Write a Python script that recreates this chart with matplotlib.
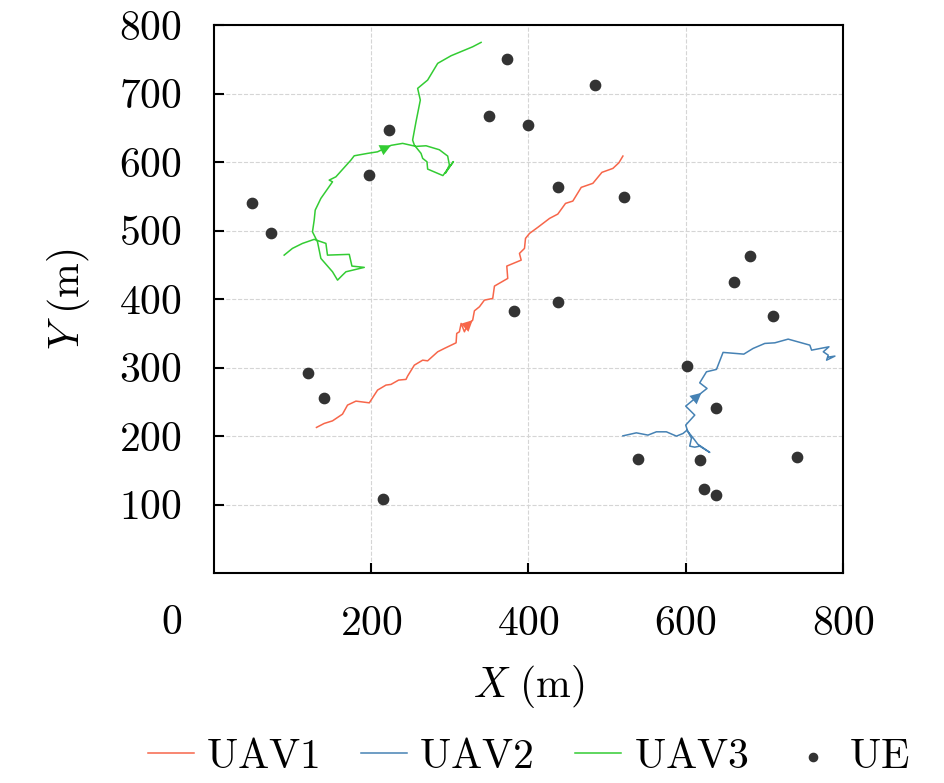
import matplotlib
matplotlib.use("Agg")
import matplotlib.pyplot as plt
import numpy as np

plt.rcParams['font.family'] = ['cmr10', 'DejaVu Sans']
plt.rcParams['mathtext.fontset'] = 'cm'
plt.rcParams['axes.formatter.use_mathtext'] = True

# UE positions (m)
ue_x = [48, 73, 222, 197, 373, 350, 400, 485, 438, 521, 437, 382, 120, 140,
        215, 601, 639, 682, 662, 711, 539, 618, 623, 638, 741]
ue_y = [541, 496, 647, 581, 750, 667, 654, 712, 563, 549, 396, 382, 292, 255,
        108, 302, 241, 463, 425, 375, 166, 165, 123, 114, 169]

# UAV1 trajectory
uav1_x = [130.3, 140.1, 150.7, 163.4, 169.8, 180.5, 197.5, 208.0, 218.7, 225.1,
          234.8, 244.2, 246.2, 254.8, 265.4, 271.7, 284.5, 293.0, 307.9, 308.7,
          312.1, 314.3, 318.5, 322.3, 329.0, 331.2, 337.6, 343.9, 354.5, 356.7,
          373.6, 372.4, 390.7, 388.5, 394.9, 396.2, 401.3, 411.8, 426.8, 437.3,
          447.1, 456.4, 467.1, 481.9, 493.4, 507.4, 515.0, 520.1]
uav1_y = [212.7, 218.5, 222.3, 232.1, 245.3, 251.1, 248.6, 267.2, 274.5, 275.5,
          281.8, 282.8, 287.6, 303.6, 310.9, 309.9, 323.1, 328.0, 336.2, 349.9,
          352.3, 364.5, 352.3, 362.0, 369.3, 382.9, 388.8, 398.5, 401.0, 419.0,
          430.2, 448.2, 456.9, 466.7, 474.0, 488.6, 495.9, 504.7, 517.8, 524.1,
          539.7, 543.1, 563.1, 569.0, 585.0, 590.8, 599.0, 608.8]

# UAV2 trajectory
uav2_x = [520.1, 537.2, 552.0, 562.7, 575.4, 588.2, 596.6, 601.7, 607.3, 605.1,
          611.5, 617.8, 630.6, 615.3, 611.5, 602.5, 600.0, 611.5, 600.0, 609.3,
          620.0, 627.1, 617.8, 626.4, 639.1, 647.5, 673.9, 685.7, 700.6, 713.4,
          730.3, 757.9, 760.1, 782.2, 775.0, 781.3, 779.2, 789.8, 780.9]
uav2_y = [200.4, 204.8, 201.5, 206.3, 206.3, 200.0, 203.9, 208.8, 197.1, 185.4,
          183.9, 185.4, 176.2, 188.3, 194.2, 207.3, 216.1, 230.7, 243.8, 252.6,
          263.2, 269.6, 277.8, 293.9, 297.4, 322.2, 319.7, 328.0, 335.3, 336.2,
          341.6, 332.8, 325.5, 330.4, 323.1, 318.2, 310.9, 316.8, 315.3]

# UAV3 trajectory
uav3_x = [89.2, 99.7, 112.5, 127.4, 142.3, 144.3, 172.0, 175.4, 191.1, 167.8,
          163.4, 157.1, 150.7, 135.9, 131.6, 125.2, 127.4, 128.7, 135.9, 150.7,
          146.5, 155.0, 174.1, 178.3, 195.3, 208.0, 225.1, 239.9, 256.9, 269.7,
          286.6, 297.2, 299.4, 294.3, 304.5, 291.1, 271.7, 270.9, 265.4, 263.3,
          254.8, 252.6, 256.9, 262.4, 259.0, 271.7, 284.5, 301.5, 329.0, 339.7]
uav3_y = [464.2, 474.0, 481.3, 487.2, 481.3, 464.2, 465.3, 448.2, 446.3, 439.9,
          435.0, 427.7, 439.9, 459.4, 483.6, 498.2, 515.3, 529.9, 547.0, 571.2,
          573.7, 578.5, 602.9, 609.2, 612.7, 615.0, 624.4, 627.3, 622.9, 623.8,
          618.0, 608.8, 595.6, 583.9, 600.7, 580.3, 589.8, 600.4, 605.4, 612.7,
          624.8, 632.1, 658.8, 690.5, 707.6, 719.7, 744.1, 755.2, 768.3, 774.7]

uavs = [
    ('UAV1', uav1_x, uav1_y, '#f7664a', 23),
    ('UAV2', uav2_x, uav2_y, '#4682b4', 19),
    ('UAV3', uav3_x, uav3_y, '#33cc33', 25),
]

FS = 30

fig = plt.figure(figsize=(9.45, 7.83), dpi=100)
ax = fig.add_axes([0.2265, 0.268, 0.6655, 0.7])

for name, xs, ys, col, k in uavs:
    ax.plot(xs, ys, color=col, lw=1.1, label=r'$\mathrm{%s}$' % name)
    # direction arrow along the path
    ax.annotate('', xy=(xs[k + 1], ys[k + 1]), xytext=(xs[k], ys[k]),
                arrowprops=dict(arrowstyle='-|>', color=col, lw=0,
                                mutation_scale=20, shrinkA=0, shrinkB=0))

ax.scatter(ue_x, ue_y, s=55, color='#333333', zorder=3, label=r'$\mathrm{UE}$')

ax.set_xlim(0, 800)
ax.set_ylim(0, 800)
ax.set_xticks([200, 400, 600, 800])
ax.set_yticks([100, 200, 300, 400, 500, 600, 700, 800])
ax.set_xticklabels([r'$200$', r'$400$', r'$600$', r'$800$'])
ax.set_yticklabels([r'$%d$' % v for v in range(100, 900, 100)])
ax.tick_params(axis='both', direction='in', length=7, width=1.5, labelsize=FS)
ax.tick_params(axis='x', pad=23)
ax.tick_params(axis='y', pad=23)
for sp in ax.spines.values():
    sp.set_linewidth(1.5)
ax.grid(True, ls='--', color='#d5d5d5', lw=0.8)
ax.set_axisbelow(True)

fig.text(172 / 945, 1 - 623 / 783, r'$0$', fontsize=FS, ha='center', va='center')

ax.set_xlabel(r'$X\ \mathrm{(m)}$', fontsize=FS, labelpad=15)
ax.set_ylabel(r'$Y\ \mathrm{(m)}$', fontsize=FS, labelpad=20)

ax.legend(loc='center', bbox_to_anchor=(0.5, -0.336), ncol=4, frameon=False,
          fontsize=FS, handlelength=1.1, handletextpad=0.3, columnspacing=1.0,
          markerscale=0.8, borderpad=0)

fig.savefig('out.png', dpi=100)
